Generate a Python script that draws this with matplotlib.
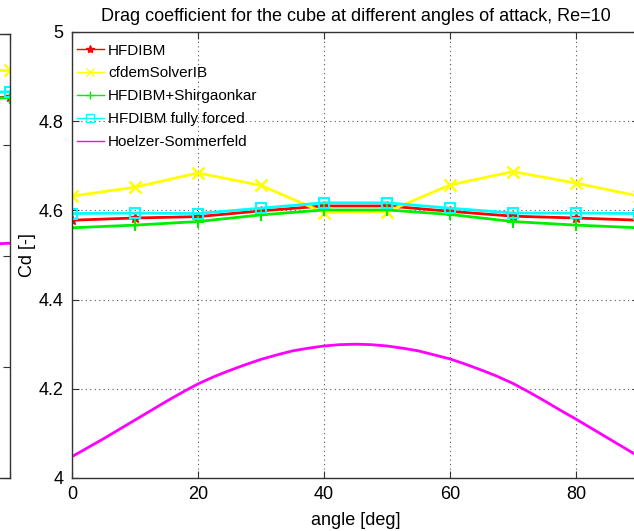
import numpy as np
import matplotlib
matplotlib.use('Agg')
import matplotlib.pyplot as plt

plt.rcParams['font.family'] = ['Liberation Sans', 'DejaVu Sans']

###############################################################################
# data

angle = [0, 10, 20, 30, 40, 50, 60, 70, 80, 90]

cd_hfdibm = [4.578, 4.583, 4.586, 4.599, 4.610, 4.610, 4.598, 4.587, 4.583, 4.578]
cd_cfdem  = [4.632, 4.652, 4.684, 4.656, 4.595, 4.597, 4.657, 4.687, 4.661, 4.632]
cd_shirg  = [4.561, 4.567, 4.575, 4.590, 4.601, 4.601, 4.591, 4.575, 4.567, 4.561]
cd_forced = [4.593, 4.594, 4.593, 4.605, 4.617, 4.617, 4.605, 4.594, 4.594, 4.593]

angle_hs = [0, 2.5, 5, 7.5, 10, 12.5, 15, 17.5, 20, 22.5, 25, 27.5, 30, 32.5,
            35, 37.5, 40, 42.5, 45, 47.5, 50, 52.5, 55, 57.5, 60, 62.5, 65,
            67.5, 70, 72.5, 75, 77.5, 80, 82.5, 85, 87.5, 90]
cd_hs = [4.048, 4.068, 4.088, 4.109, 4.130, 4.151, 4.172, 4.192, 4.211, 4.227,
         4.241, 4.254, 4.266, 4.276, 4.285, 4.291, 4.296, 4.299, 4.300, 4.299,
         4.296, 4.291, 4.285, 4.276, 4.267, 4.255, 4.242, 4.228, 4.212, 4.193,
         4.173, 4.152, 4.132, 4.111, 4.090, 4.069, 4.048]

# neighbouring plot, only its right edge is visible
angle_prev = [80, 90]
prev_hfdibm = [2.885, 2.886]
prev_cfdem  = [2.935, 2.935]
prev_shirg  = [2.884, 2.885]
prev_forced = [2.893, 2.896]
prev_hs     = [2.618, 2.623]

labels = ['HFDIBM', 'cfdemSolverIB', 'HFDIBM+Shirgaonkar',
          'HFDIBM fully forced', 'Hoelzer-Sommerfeld']

###############################################################################

W, H = 634, 531
fig = plt.figure(figsize=(W/100., H/100.), dpi=100)

def px_axes(x0, y0, x1, y1):
    return fig.add_axes([x0/W, 1-y1/H, (x1-x0)/W, (y1-y0)/H])

def matlab_style(ax):
    ax.tick_params(direction='in', top=True, right=True, length=5,
                   width=0.8, color='#333333', labelsize=13, pad=6)
    for s in ax.spines.values():
        s.set_color('#333333')
        s.set_linewidth(1.0)

lw = 2.0
styles = [dict(color='red', marker='*', ms=7),
          dict(color='yellow', marker='x', ms=8, mew=1.8),
          dict(color='#00ee00', marker='+', ms=9, mew=1.5),
          dict(color='cyan', marker='s', ms=7, mfc='none', mew=1.5),
          dict(color='magenta')]

# left neighbour plot (cropped)
ax0 = px_axes(9.5-567, 34, 9.5, 478)
matlab_style(ax0)
for y, st in zip([prev_hfdibm, prev_cfdem, prev_shirg, prev_forced], styles[:4]):
    ax0.plot(angle_prev, y, lw=lw, **st)
ax0.plot(angle_prev, prev_hs, lw=lw, color='magenta')
ax0.set_xlim(0, 90)
ax0.set_ylim(2.2, 3.0)
ax0.set_yticks([2.2, 2.4, 2.6, 2.8, 3.0])
ax0.tick_params(labelleft=False, labelbottom=False)

# main plot
ax = px_axes(72, 32, 639, 478)
matlab_style(ax)
series = [cd_hfdibm, cd_cfdem, cd_shirg, cd_forced]
for y, st, lab in zip(series, styles[:4], labels[:4]):
    ax.plot(angle, y, lw=lw, label=lab, **st)
ax.plot(angle_hs, cd_hs, lw=lw, label=labels[4], **styles[4])

ax.set_xlim(0, 90)
ax.set_ylim(4, 5)
ax.set_xticks([0, 20, 40, 60, 80])
ax.set_yticks([4, 4.2, 4.4, 4.6, 4.8, 5])
ax.set_yticklabels(['4', '4.2', '4.4', '4.6', '4.8', '5'])
ax.grid(True, linestyle=(0, (1, 3)), color='#555555', linewidth=0.8)

ax.set_title('Drag coefficient for the cube at different angles of attack, Re=10',
             fontsize=13, pad=8)
ax.set_xlabel('angle [deg]', fontsize=13, labelpad=6)
ax.set_ylabel('Cd [-]', fontsize=13, labelpad=2)

leg = ax.legend(loc='upper left', bbox_to_anchor=(0, 1 - 7/446.),
                frameon=False, fontsize=11, handlelength=1.8,
                handletextpad=0.25, labelspacing=0.58, borderaxespad=0.25,
                borderpad=0.05)
for ln in leg.get_lines():
    ln.set_linewidth(1.0)
    ln.set_markersize(6)
    ln.set_markeredgewidth(1.0)

fig.savefig('out.png', dpi=100)
